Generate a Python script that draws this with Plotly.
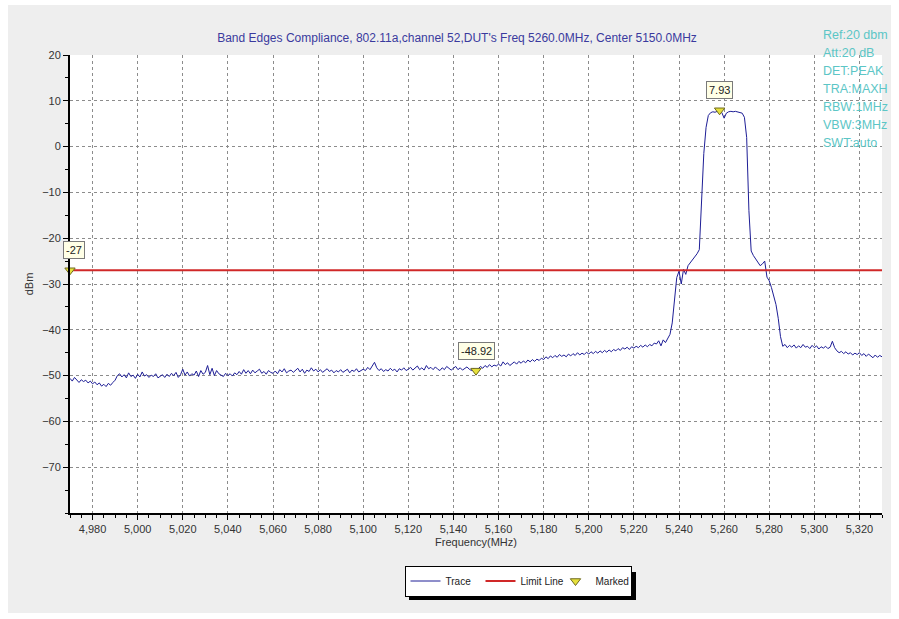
"""
Band edge compliance sweep, 802.11a channel 52 -- spectrum analyzer style plot.
"""

import plotly.graph_objects as go

# ---- data -------------------------------------------------------------------
FREQ_START_MHZ = 4970
FREQ_STOP_MHZ = 5330

# trace level (dBm), one point per MHz from 4970 to 5330
TRACE_DBM = [
    -50.6, -51.2, -50.4, -51.0, -51.5, -50.9, -51.3, -51.0, -51.6, -51.2,
    -51.8, -51.4, -52.0, -51.6, -52.3, -51.9, -52.4, -51.7, -52.1, -51.5,
    -51.0, -50.0, -49.6, -50.3, -49.8, -50.5, -49.4, -50.2, -49.9, -50.6,
    -49.7, -50.3, -49.2, -50.1, -49.8, -50.4, -49.9, -50.2, -49.6, -50.5,
    -50.1, -49.8, -50.4, -49.7, -50.2, -49.5, -50.0, -49.3, -50.4, -49.8,
    -48.6, -49.9, -49.2, -50.1, -49.6, -49.9, -49.0, -50.2, -48.9, -49.7,
    -49.3, -47.8, -49.8, -48.4, -50.0, -48.9, -49.6, -49.9, -50.2, -49.5,
    -50.0, -49.6, -50.1, -49.4, -49.8, -49.1, -49.7, -48.7, -49.5, -48.9,
    -49.6, -48.8, -49.4, -49.0, -48.6, -49.5, -49.1, -49.7, -48.9, -49.3,
    -49.5, -49.0, -49.6, -48.7, -49.2, -48.5, -49.4, -49.0, -48.8, -49.3,
    -48.9, -48.4, -49.2, -48.6, -49.5, -48.8, -49.1, -48.3, -49.0, -48.6,
    -49.2, -48.7, -49.3, -48.9, -48.5, -49.1, -48.8, -49.4, -48.9, -49.2,
    -48.7, -49.3, -49.0, -48.6, -49.4, -48.8, -49.1, -48.5, -49.2, -48.9,
    -48.6, -48.9, -48.2, -48.7, -47.9, -47.1, -48.3, -48.9, -48.5, -49.1,
    -48.7, -49.0, -48.4, -48.9, -48.6, -49.2, -48.5, -48.8, -48.3, -48.9,
    -48.6, -48.2, -48.8, -48.4, -47.9, -48.7, -48.3, -48.8, -47.8, -48.5,
    -48.2, -48.7, -48.1, -48.6, -48.9, -48.3, -48.7, -48.0, -48.5, -48.8,
    -48.4, -48.0, -48.7, -48.3, -48.8, -48.5, -48.1, -48.6, -48.9, -48.4,
    -48.92, -48.5, -48.0, -48.4, -47.8, -48.2, -47.6, -48.1, -47.7, -47.9,
    -47.5, -47.9, -47.0, -47.6, -47.2, -47.8, -47.3, -47.0, -47.5, -46.9,
    -47.3, -46.8, -47.2, -46.6, -47.0, -46.5, -46.9, -46.4, -46.7, -46.2,
    -46.5, -45.9, -46.3, -45.7, -46.1, -45.6, -46.0, -45.4, -45.8, -45.5,
    -45.9, -45.3, -45.7, -45.2, -45.6, -45.0, -45.5, -45.1, -45.4, -44.9,
    -45.3, -44.8, -45.2, -44.7, -45.1, -44.6, -45.0, -44.5, -44.9, -44.4,
    -44.8, -44.3, -44.6, -44.1, -44.5, -43.9, -44.2, -43.8, -44.3, -43.7,
    -44.0, -43.6, -43.9, -43.4, -43.8, -43.3, -43.7, -43.2, -43.5, -42.9,
    -43.1, -42.4, -43.5, -42.2, -42.8, -41.9, -41.0, -38.5, -33.0, -28.6,
    -27.2, -30.0, -26.8, -27.9, -26.0, -25.4, -24.7, -24.2, -23.4, -22.5,
    -10.0, -1.5, 4.2, 6.8, 7.4, 7.6, 7.5, 7.8, 7.93, 7.4,
    6.2, 7.3, 7.6, 7.7, 7.6, 7.7, 7.6, 7.5, 7.3, 6.4,
    2.0, -14.0, -22.8, -23.8, -24.5, -25.2, -26.0, -25.6, -25.0, -28.5,
    -29.3, -30.8, -32.5, -34.5, -37.5, -41.5, -43.6, -43.2, -43.9, -43.4,
    -43.8, -43.3, -44.0, -43.5, -43.9, -43.2, -43.8, -43.6, -44.1, -43.4,
    -43.9, -43.5, -44.2, -43.7, -44.0, -43.6, -44.1, -43.8, -42.5, -43.9,
    -44.6, -45.0, -44.7, -45.2, -44.8, -45.3, -45.0, -45.5, -45.1, -45.4,
    -45.0, -45.6, -45.2, -45.8, -45.3, -45.7, -46.1, -45.5, -46.0, -45.6,
    -45.9,
]
FREQ_MHZ = list(range(FREQ_START_MHZ, FREQ_START_MHZ + len(TRACE_DBM)))

LIMIT_DBM = -27

MARKER_FREQ = [5258, 5150, 4970]
MARKER_DBM = [7.93, -48.92, -27]
MARKER_TEXT = ["7.93", "-48.92", "-27"]

SETTINGS = ["Ref:20 dbm", "Att:20 dB", "DET:PEAK", "TRA:MAXH",
            "RBW:1MHz", "VBW:3MHz", "SWT:auto"]

TITLE = ("Band Edges Compliance, 802.11a,channel 52,DUT's Freq 5260.0MHz, "
         "Center 5150.0MHz")

# ---- styling ----------------------------------------------------------------
TRACE_BLUE = "#1E1E96"
LIMIT_RED = "#D02828"
MARK_YELLOW = "#E6E03C"
TITLE_BLUE = "#3A3A9E"
TEAL = "#5CC6C6"
GRID = "#8C8C8C"
FONT = "Liberation Sans, Arial, sans-serif"

W, H = 899, 619
L, R, T, B = 70, 17, 55, 106
PW, PH = W - L - R, H - T - B


def px_x(p):
    return (p - L) / PW


def px_y(p):
    return (H - B - p) / PH


fig = go.Figure()

fig.add_trace(go.Scatter(
    x=FREQ_MHZ, y=TRACE_DBM, mode="lines", name="Trace",
    line=dict(color=TRACE_BLUE, width=1),
))
fig.add_trace(go.Scatter(
    x=[FREQ_START_MHZ, FREQ_STOP_MHZ], y=[LIMIT_DBM, LIMIT_DBM],
    mode="lines", name="Limit Line",
    line=dict(color=LIMIT_RED, width=2),
))
fig.add_trace(go.Scatter(
    x=MARKER_FREQ, y=MARKER_DBM, mode="markers", name="Marked",
    marker=dict(symbol="triangle-down", size=9, color=MARK_YELLOW,
                line=dict(color="#6E6A20", width=1)),
    cliponaxis=False,
))

# marker value boxes
for f, v, t in zip(MARKER_FREQ, MARKER_DBM, MARKER_TEXT):
    fig.add_annotation(
        x=f, y=v, text=t, showarrow=False, yshift=20,
        xshift=4 if f == FREQ_START_MHZ else 0,
        font=dict(family=FONT, size=11, color="#222222"),
        bgcolor="#FFFFE6", bordercolor="#7A7A7A", borderwidth=1, borderpad=2,
    )

# analyzer settings, top right, one line every 18 px
for i, line in enumerate(SETTINGS):
    fig.add_annotation(
        xref="paper", yref="paper", x=px_x(821), y=px_y(35 + 18 * i),
        xanchor="left", yanchor="middle", showarrow=False,
        text=line, font=dict(family=FONT, size=12.5, color=TEAL),
    )

# grey panel with thin white surround, white plot area on top of it
fig.add_shape(type="rect", xref="paper", yref="paper", layer="below",
              x0=px_x(8), x1=px_x(891), y0=px_y(613), y1=px_y(5),
              fillcolor="#EEEEEE", line=dict(width=0))
fig.add_shape(type="rect", xref="paper", yref="paper", layer="below",
              x0=0, x1=1, y0=0, y1=1,
              fillcolor="white", line=dict(width=0))

axis_common = dict(
    showline=True, linecolor="black", linewidth=2, mirror=False,
    showgrid=True, gridcolor=GRID, griddash="3px,3px", gridwidth=1,
    ticks="outside", ticklen=5, tickcolor="black", tickwidth=1,
    tickfont=dict(family=FONT, size=11, color="#333333"),
    zeroline=False,
)

fig.update_xaxes(
    range=[FREQ_START_MHZ, FREQ_STOP_MHZ], dtick=20, tick0=4980,
    tickformat=",d",
    minor=dict(dtick=5, tick0=4980, ticks="outside", ticklen=3,
               tickcolor="black", showgrid=False),
    title=dict(text="Frequency(MHz)", standoff=4,
               font=dict(family=FONT, size=11, color="#333333")),
    **axis_common,
)
fig.update_yaxes(
    range=[-80, 20], dtick=10, tickvals=list(range(-70, 21, 10)),
    minor=dict(dtick=5, ticks="outside", ticklen=3,
               tickcolor="black", showgrid=False),
    title=dict(text="dBm", standoff=6,
               font=dict(family=FONT, size=11, color="#333333")),
    **axis_common,
)

# legend drop shadow
fig.add_shape(type="rect", xref="paper", yref="paper", layer="below",
              x0=px_x(409), x1=px_x(636), y0=px_y(600), y1=px_y(572),
              fillcolor="black", line=dict(width=0))

fig.update_layout(
    width=W, height=H,
    margin=dict(l=L, r=R, t=T, b=B),
    paper_bgcolor="white", plot_bgcolor="white",
    title=dict(text=TITLE, xref="container", x=457 / W, xanchor="center",
               yref="container", y=1 - 38 / H, yanchor="middle",
               font=dict(family=FONT, size=12, color=TITLE_BLUE)),
    showlegend=True,
    legend=dict(
        orientation="h", xref="paper", yref="paper",
        x=px_x(518), y=px_y(581), xanchor="center", yanchor="middle",
        bgcolor="white", bordercolor="black", borderwidth=1,
        font=dict(family=FONT, size=10, color="#222222"),
        itemwidth=30, tracegroupgap=0,
        entrywidth=30, entrywidthmode="pixels",
    ),
)

# no page margin, so the figure sits at the window's top-left corner
fig.write_html("out.html", config={"displayModeBar": False},
               post_script="document.body.style.margin='0px';")
